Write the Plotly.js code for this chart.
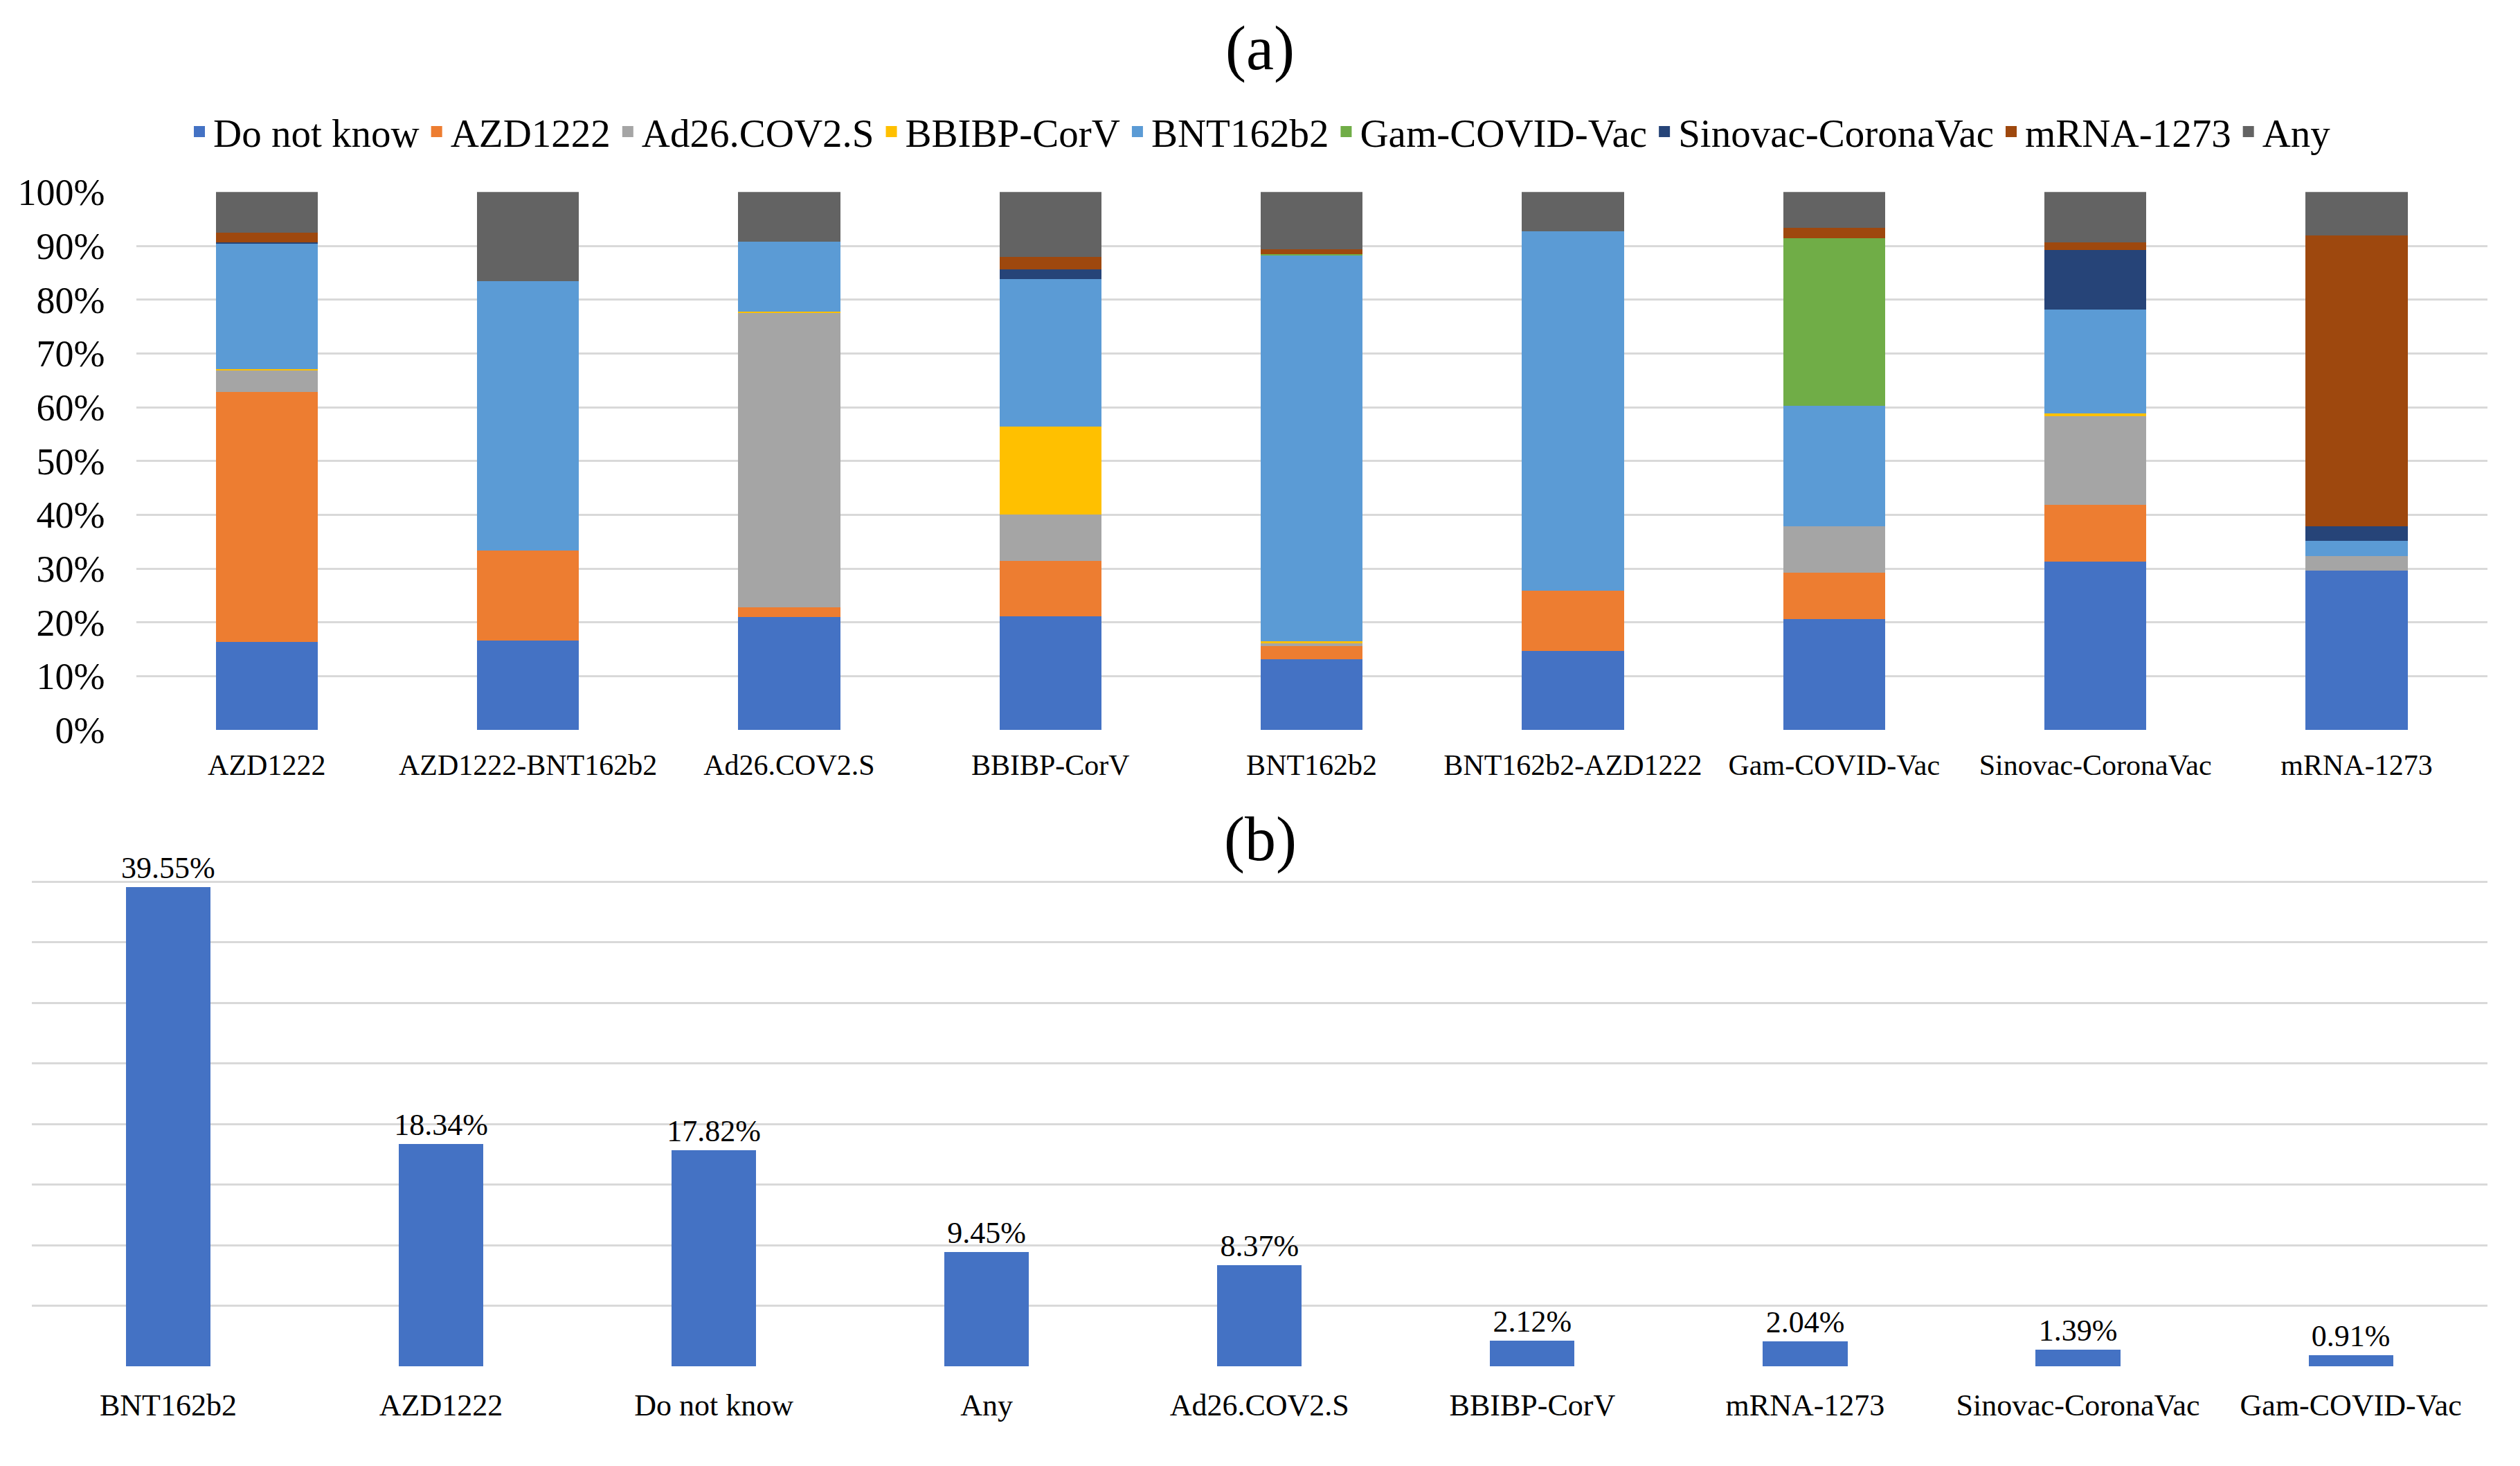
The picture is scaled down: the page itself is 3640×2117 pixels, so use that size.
<!DOCTYPE html>
<html>
<head>
<meta charset="utf-8">
<script src="https://cdn.plot.ly/plotly-3.0.1.min.js"></script>
<style>html,body{margin:0;padding:0;background:#fff;}#chart{width:3640px;height:2117px;}</style>
</head>
<body>
<div id="chart"></div>
<script>
// ---- Panel (a): stacked 100% bars ----
const groupsA = ["AZD1222", "AZD1222-BNT162b2", "Ad26.COV2.S", "BBIBP-CorV", "BNT162b2", "BNT162b2-AZD1222", "Gam-COVID-Vac", "Sinovac-CoronaVac", "mRNA-1273"];
const seriesNames = ["Do not know", "AZD1222", "Ad26.COV2.S", "BBIBP-CorV", "BNT162b2", "Gam-COVID-Vac", "Sinovac-CoronaVac", "mRNA-1273", "Any"];
const doNotKnow  = [16.4, 16.7, 21.0, 21.2, 13.2, 14.7, 20.6, 31.3, 29.7];
const azd1222    = [46.4, 16.7, 1.8, 10.3, 2.4, 11.2, 8.7, 10.6, 0];
const ad26       = [4.0, 0, 54.7, 8.5, 0.5, 0, 8.6, 16.5, 2.7];
const bbibp      = [0.3, 0, 0.3, 16.4, 0.4, 0, 0, 0.4, 0];
const bnt162b2   = [23.3, 50.0, 13.0, 27.4, 71.7, 66.8, 22.4, 19.4, 2.8];
const gamCovid   = [0, 0, 0, 0, 0.2, 0, 31.1, 0, 0];
const sinovac    = [0.2, 0, 0, 1.8, 0, 0, 0, 11.0, 2.7];
const mrna1273   = [1.8, 0, 0, 2.4, 1.0, 0, 1.9, 1.4, 54.0];
const anyVac     = [7.6, 16.6, 9.2, 12.0, 10.6, 7.3, 6.7, 9.4, 8.1];
const seriesValues = [doNotKnow, azd1222, ad26, bbibp, bnt162b2, gamCovid, sinovac, mrna1273, anyVac];
const seriesColors = ["#4472C4", "#ED7D31", "#A5A5A5", "#FFC000", "#5B9BD5", "#70AD47", "#264478", "#9E480E", "#636363"];
const yTicksA = [0, 10, 20, 30, 40, 50, 60, 70, 80, 90, 100];

// ---- Panel (b): overall preference ----
const groupsB = ["BNT162b2", "AZD1222", "Do not know", "Any", "Ad26.COV2.S", "BBIBP-CorV", "mRNA-1273", "Sinovac-CoronaVac", "Gam-COVID-Vac"];
const valuesB = [39.55, 18.34, 17.82, 9.45, 8.37, 2.12, 2.04, 1.39, 0.91];

const FONT = "Liberation Serif, Times New Roman, serif";

const traces = seriesNames.map((name, i) => ({
  type: "bar",
  name: name,
  legendgroup: name,
  showlegend: false,
  x: groupsA,
  y: seriesValues[i],
  width: 0.39,
  marker: { color: seriesColors[i], line: { width: 0 } },
  xaxis: "x",
  yaxis: "y",
  hoverinfo: "x+y+name"
}));

// legend entries (square swatches) for the stacked series
seriesNames.forEach((name, i) => {
  traces.push({
    type: "scatter",
    mode: "markers",
    name: name,
    legendgroup: name,
    x: [null],
    y: [null],
    marker: { symbol: "square", size: 16, color: seriesColors[i] },
    xaxis: "x",
    yaxis: "y",
    showlegend: true
  });
});

traces.push({
  type: "bar",
  x: groupsB,
  y: valuesB,
  width: 0.31,
  marker: { color: "#4472C4", line: { width: 0 } },
  text: valuesB.map(v => v.toFixed(2) + "%"),
  textposition: "outside",
  constraintext: "none",
  cliponaxis: false,
  textfont: { family: FONT, size: 44, color: "#000" },
  showlegend: false,
  xaxis: "x2",
  yaxis: "y2"
});

const layout = {
  width: 3640,
  height: 2117,
  margin: { l: 0, r: 0, t: 0, b: 0 },
  paper_bgcolor: "#fff",
  plot_bgcolor: "#fff",
  font: { family: FONT, color: "#000" },
  barmode: "stack",
  showlegend: true,
  legend: {
    orientation: "h",
    x: 0.5, xanchor: "center",
    y: 0.910, yanchor: "middle",
    font: { family: FONT, size: 57, color: "#000" },
    traceorder: "normal",
    itemsizing: "trace",
    itemwidth: 30
  },
  xaxis: {
    domain: [0.054, 0.987],
    anchor: "y",
    type: "category",
    range: [-0.5, 8.5],
    showgrid: false,
    showline: false,
    ticks: "",
    ticklabelstandoff: 22,
    tickfont: { family: FONT, size: 42, color: "#000" }
  },
  yaxis: {
    domain: [0.502, 0.869],
    anchor: "x",
    range: [0, 100],
    tickvals: yTicksA,
    ticktext: yTicksA.map(v => v + "%"),
    showgrid: true,
    gridcolor: "#d9d9d9",
    gridwidth: 3,
    zeroline: false,
    showline: false,
    ticks: "",
    ticklabelstandoff: 44,
    tickfont: { family: FONT, size: 54, color: "#000" }
  },
  xaxis2: {
    domain: [0.0126, 0.987],
    anchor: "y2",
    type: "category",
    range: [-0.5, 8.5],
    showgrid: false,
    showline: false,
    ticks: "",
    ticklabelstandoff: 26,
    tickfont: { family: FONT, size: 44, color: "#000" }
  },
  yaxis2: {
    domain: [0.068, 0.440],
    anchor: "x2",
    range: [0, 45],
    dtick: 5,
    tick0: 0,
    showticklabels: false,
    showgrid: true,
    gridcolor: "#d9d9d9",
    gridwidth: 3,
    zeroline: false,
    showline: false,
    ticks: ""
  },
  annotations: [
    { text: "(a)", x: 0.5, y: 1 - 70 / 2117, xref: "paper", yref: "paper", xanchor: "center", yanchor: "middle", showarrow: false, font: { family: FONT, size: 90, color: "#000" } },
    { text: "(b)", x: 0.5, y: 1 - 1212 / 2117, xref: "paper", yref: "paper", xanchor: "center", yanchor: "middle", showarrow: false, font: { family: FONT, size: 90, color: "#000" } }
  ]
};

Plotly.newPlot("chart", traces, layout, { staticPlot: true, displayModeBar: false });
</script>
</body>
</html>
